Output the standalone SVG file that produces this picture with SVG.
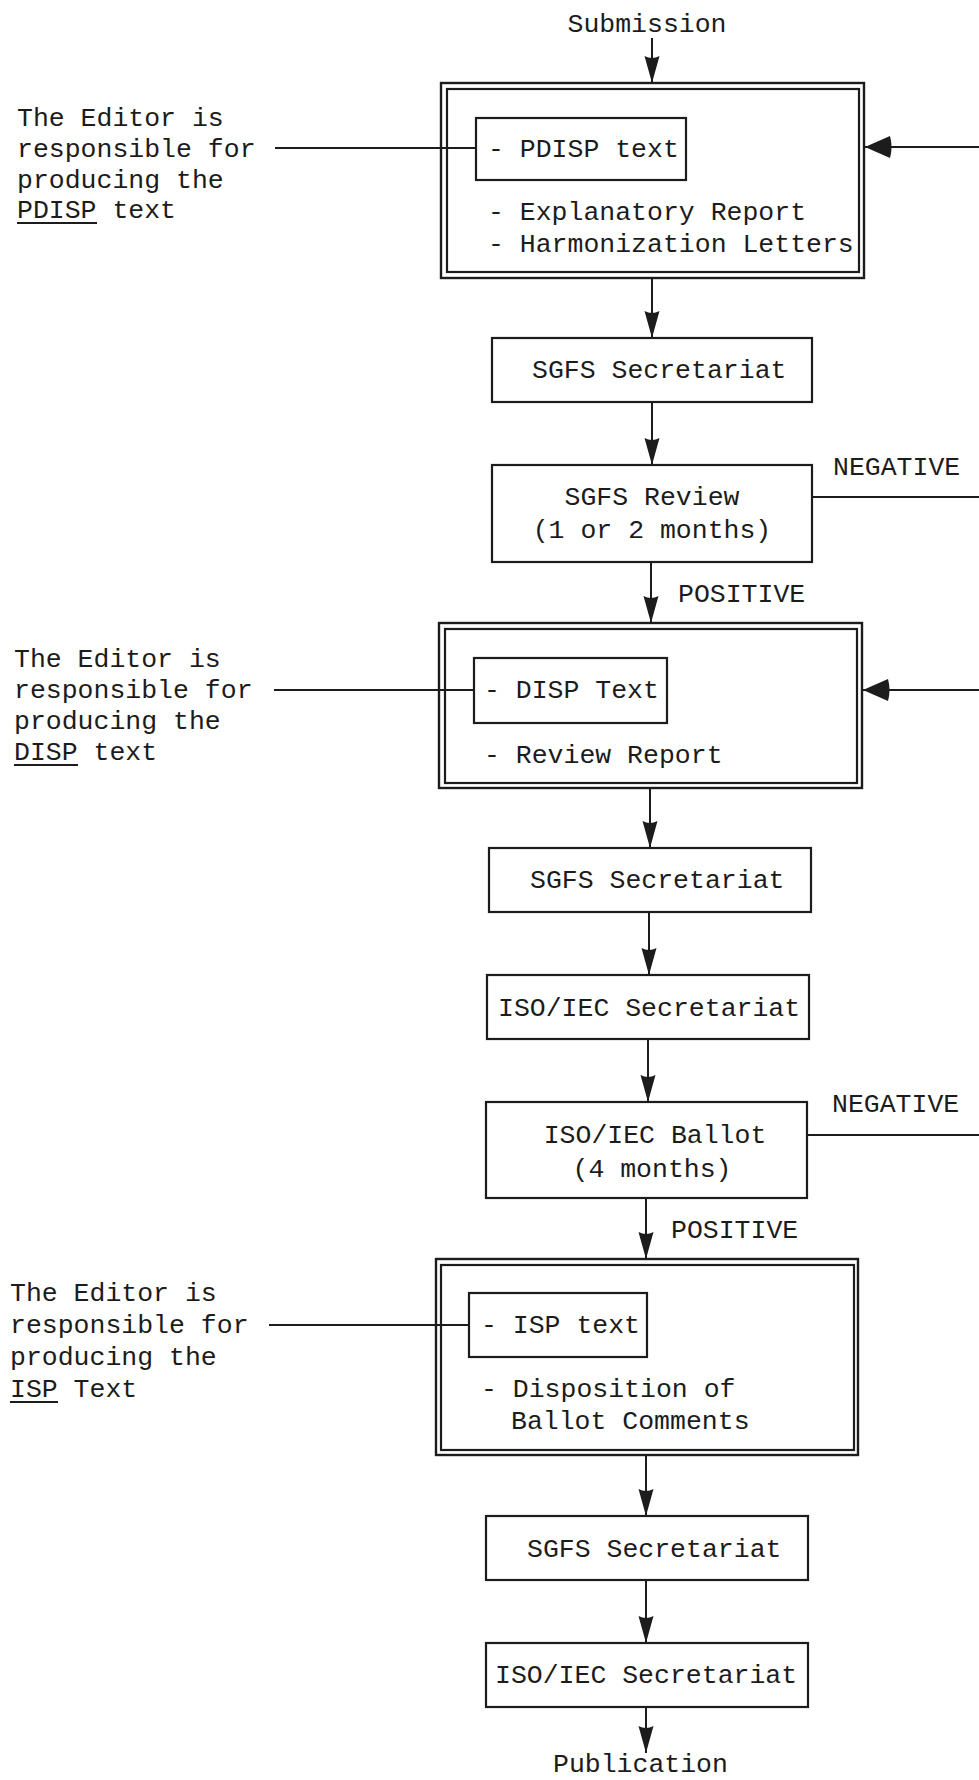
<svg xmlns="http://www.w3.org/2000/svg" width="979" height="1780" viewBox="0 0 979 1780">
<style>
text{font-family:"Liberation Mono","DejaVu Sans Mono",monospace;font-size:26.5px;fill:#1c1c1c}
.box{fill:none;stroke:#1c1c1c;stroke-width:2.2}
.dbl{fill:none;stroke:#1c1c1c;stroke-width:2.4}
.ln{fill:none;stroke:#1c1c1c;stroke-width:2}
.ul{stroke:#1c1c1c;stroke-width:2}
.mid{text-anchor:middle}
</style>
<defs>
<marker id="ad" viewBox="0 0 30 16" refX="30" refY="8" markerWidth="30" markerHeight="16" markerUnits="userSpaceOnUse" orient="auto">
<path d="M30,8 L3,0.5 Q7,8 3,15.5 Z" fill="#1c1c1c"/>
</marker>
<marker id="al" viewBox="0 0 28 22" refX="28" refY="11" markerWidth="28" markerHeight="22" markerUnits="userSpaceOnUse" orient="auto">
<path d="M28,11 L3,0 Q0,11 3,22 Z" fill="#1c1c1c"/>
</marker>
</defs>
<rect width="979" height="1780" fill="#fff"/>

<g id="connectors">
<path class="ln" d="M652,38 V83" marker-end="url(#ad)"/>
<path class="ln" d="M652,278 V338" marker-end="url(#ad)"/>
<path class="ln" d="M652,402 V465" marker-end="url(#ad)"/>
<path class="ln" d="M651,562 V623" marker-end="url(#ad)"/>
<path class="ln" d="M650,788 V848" marker-end="url(#ad)"/>
<path class="ln" d="M649,912 V975" marker-end="url(#ad)"/>
<path class="ln" d="M648,1039 V1102" marker-end="url(#ad)"/>
<path class="ln" d="M646,1198 V1259" marker-end="url(#ad)"/>
<path class="ln" d="M646,1455 V1516" marker-end="url(#ad)"/>
<path class="ln" d="M646,1580 V1643" marker-end="url(#ad)"/>
<path class="ln" d="M646,1707 V1753" marker-end="url(#ad)"/>
<path class="ln" d="M979,147 H865" marker-end="url(#al)"/>
<path class="ln" d="M979,690 H863" marker-end="url(#al)"/>
<path class="ln" d="M812,497 H979"/>
<path class="ln" d="M807,1135 H979"/>
<path class="ln" d="M275,148 H476"/>
<path class="ln" d="M274,690 H474"/>
<path class="ln" d="M269,1325 H469"/>
<text x="833" y="475">NEGATIVE</text>
<text x="678" y="602">POSITIVE</text>
<text x="832" y="1112">NEGATIVE</text>
<text x="671" y="1238">POSITIVE</text>
</g>

<g id="submission"><text class="mid" x="647" y="32">Submission</text></g>

<g id="note1">
<text x="17" y="126">The Editor is</text>
<text x="17" y="157">responsible for</text>
<text x="17" y="188">producing the</text>
<text x="17" y="218">PDISP text</text>
<line class="ul" x1="17" y1="223" x2="97" y2="223"/>
</g>

<g id="pdisp">
<rect class="dbl" x="441" y="83" width="423" height="195"/>
<rect class="box" x="447" y="89" width="412" height="183"/>
<rect class="box" x="476" y="118" width="210" height="62"/>
<text x="488" y="157">- PDISP text</text>
<text x="488" y="220">- Explanatory Report</text>
<text x="488" y="252">- Harmonization Letters</text>
</g>

<g id="sgfs1">
<rect class="box" x="492" y="338" width="320" height="64"/>
<text x="532" y="378">SGFS Secretariat</text>
</g>

<g id="review">
<rect class="box" x="492" y="465" width="320" height="97"/>
<text class="mid" x="652" y="505">SGFS Review</text>
<text class="mid" x="652" y="538">(1 or 2 months)</text>
</g>

<g id="note2">
<text x="14" y="667">The Editor is</text>
<text x="14" y="698">responsible for</text>
<text x="14" y="729">producing the</text>
<text x="14" y="760">DISP text</text>
<line class="ul" x1="14" y1="765" x2="78" y2="765"/>
</g>

<g id="disp">
<rect class="dbl" x="439" y="623" width="423" height="165"/>
<rect class="box" x="445" y="629" width="412" height="154"/>
<rect class="box" x="474" y="658" width="193" height="65"/>
<text x="484" y="698">- DISP Text</text>
<text x="484" y="763">- Review Report</text>
</g>

<g id="sgfs2">
<rect class="box" x="489" y="848" width="322" height="64"/>
<text x="530" y="888">SGFS Secretariat</text>
</g>

<g id="iso1">
<rect class="box" x="487" y="975" width="322" height="64"/>
<text x="498" y="1016">ISO/IEC Secretariat</text>
</g>

<g id="ballot">
<rect class="box" x="486" y="1102" width="321" height="96"/>
<text class="mid" x="655" y="1143">ISO/IEC Ballot</text>
<text class="mid" x="652" y="1177">(4 months)</text>
</g>

<g id="note3">
<text x="10" y="1301">The Editor is</text>
<text x="10" y="1333">responsible for</text>
<text x="10" y="1365">producing the</text>
<text x="10" y="1397">ISP Text</text>
<line class="ul" x1="10" y1="1402" x2="58" y2="1402"/>
</g>

<g id="isp">
<rect class="dbl" x="436" y="1259" width="422" height="196"/>
<rect class="box" x="441" y="1265" width="413" height="185"/>
<rect class="box" x="469" y="1293" width="178" height="64"/>
<text x="481" y="1333">- ISP text</text>
<text x="481" y="1397">- Disposition of</text>
<text x="511" y="1429">Ballot Comments</text>
</g>

<g id="sgfs3">
<rect class="box" x="486" y="1516" width="322" height="64"/>
<text x="527" y="1557">SGFS Secretariat</text>
</g>

<g id="iso2">
<rect class="box" x="486" y="1643" width="322" height="64"/>
<text x="495" y="1683">ISO/IEC Secretariat</text>
</g>

<g id="publication"><text x="553" y="1772">Publication</text></g>
</svg>
